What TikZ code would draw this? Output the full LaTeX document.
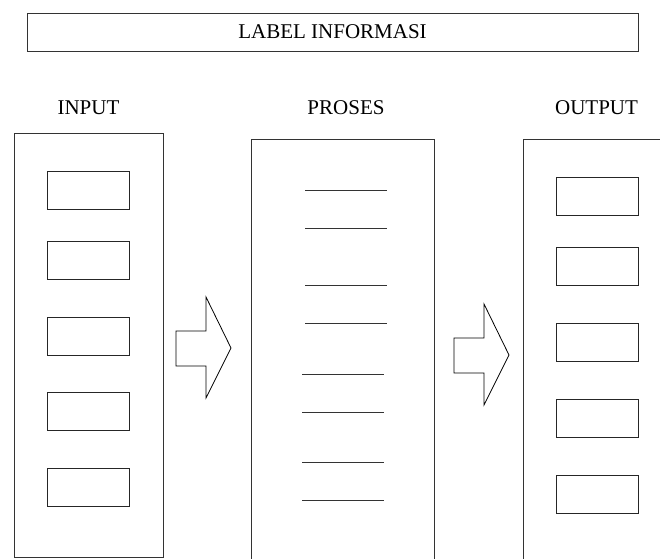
\documentclass[tikz,border=0pt]{standalone}
\usepackage{fontspec}
\setmainfont{Liberation Serif}
\usetikzlibrary{positioning}
\tikzset{
  labelbox/.style={draw=black!80, line width=1pt, minimum width=611pt, minimum height=38pt,
                   inner sep=0pt, font=\fontsize{21}{25}\selectfont},
  heading/.style={inner sep=0pt, font=\fontsize{21}{25}\selectfont},
  panel/.style={draw=black!80, line width=1pt, inner sep=0pt, anchor=north west},
  field/.style={draw=black!85, line width=1pt, minimum width=82pt, minimum height=38pt, inner sep=0pt},
  rule/.style={draw=black!80, line width=1pt},
  flowarrow/.style={draw=black, line width=0.8pt, line join=miter, fill=white}
}

\begin{document}
\begin{tikzpicture}[x=1pt,y=-1pt]
    \useasboundingbox (0,0) rectangle (660,558);
    \clip (0,0) rectangle (660,558);

    % title bar
    \node[labelbox] (info) at (332.5,32) {LABEL INFORMASI};

    % three columns
    \node[panel, minimum width=149pt, minimum height=424pt] (input) at (14,133) {};
    \node[panel, minimum width=183pt, minimum height=440pt] (proses) at (251,139) {};
    \node[panel, minimum width=170pt, minimum height=440pt] (output) at (523,139) {};

    \node[heading] (inputlbl) at (88.5,108) {INPUT};
    \node[heading] (proseslbl) at (346,108) {PROSES};
    \node[heading] (outputlbl) at (596.5,108) {OUTPUT};

    % input fields
    \foreach \y [count=\i] in {190,260,336,411.5,487}
      \node[field] (in\i) at (88,\y) {};

    % output fields
    \foreach \y [count=\i] in {196.5,266,342,418,494}
      \node[field] (out\i) at (597,\y) {};

    % process lines
    \foreach \y in {190,228,285,323}
      \draw[rule] (305,\y) -- (387,\y);
    \foreach \y in {374,412,462,500}
      \draw[rule] (302,\y) -- (384,\y);

    % block arrows
    \foreach \dx/\dy in {0/0,278/7}
      \draw[flowarrow, shift={(\dx,\dy)}] (176,331) -- (206,331) -- (206,297) -- (231,348)
        -- (206,398) -- (206,366) -- (176,366) -- cycle;
\end{tikzpicture}
\end{document}
